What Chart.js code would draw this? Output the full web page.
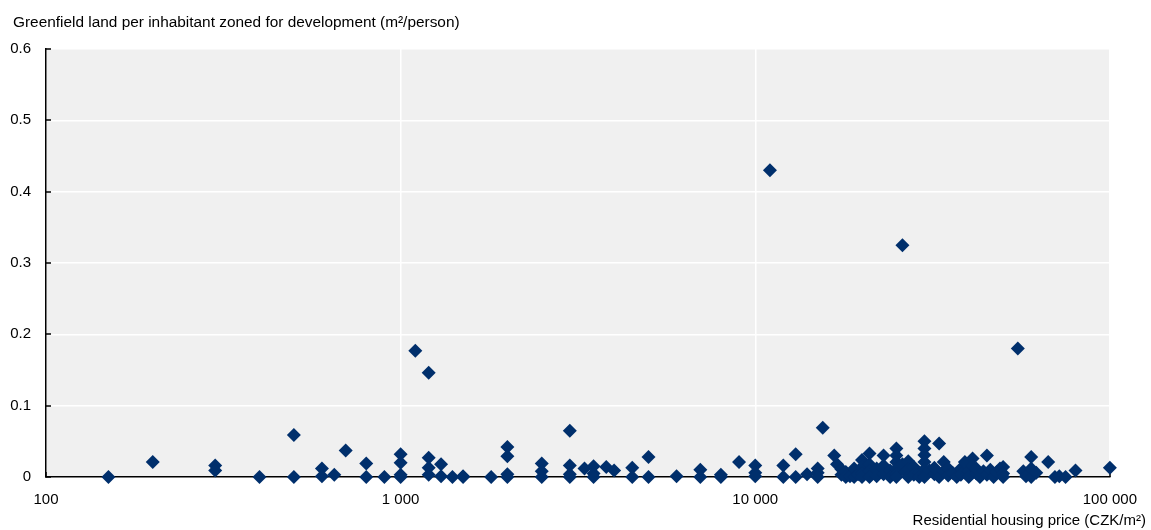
<!DOCTYPE html>
<html>
<head>
<meta charset="utf-8">
<title>Greenfield land zoned for development vs residential housing price</title>
<script src="https://cdn.jsdelivr.net/npm/chart.js@4.4.1/dist/chart.umd.min.js"></script>
<style>
  html, body { margin: 0; padding: 0; background: #ffffff; }
  canvas { display: block; }
</style>
</head>
<body>
<canvas id="chart" width="1151" height="530"></canvas>
<script>
// Residential housing price per municipality (CZK/m²)
const housingPrice = [
  150, 200, 300, 300, 400, 500, 500, 600, 600, 650,
  700, 800, 800, 900, 1000, 1000, 1000, 1000, 1100, 1200,
  1200, 1200, 1200, 1300, 1300, 1400, 1500, 1500, 1800, 2000,
  2000, 2000, 2000, 2500, 2500, 2500, 3000, 3000, 3000, 3000,
  3300, 3500, 3500, 3500, 3800, 4000, 4500, 4500, 5000, 5000,
  6000, 7000, 7000, 8000, 8000, 9000, 10000, 10000, 10000, 11000,
  12000, 12000, 13000, 13000, 14000, 15000, 15000, 15000, 15500, 16700,
  17000, 17500, 17500, 18000, 18000, 18500, 19000, 19000, 19500, 20000,
  20000, 20000, 20000, 21000, 21000, 21000, 21000, 22000, 22000, 23000,
  23000, 23000, 24000, 24000, 25000, 25000, 25000, 25000, 25000, 25000,
  26000, 26000, 26500, 27000, 27000, 27000, 28000, 28000, 29000, 29000,
  30000, 30000, 30000, 30000, 30000, 30000, 30000, 31000, 32000, 32000,
  33000, 33000, 34000, 34000, 35000, 35000, 36000, 37000, 38000, 38000,
  39000, 40000, 40000, 41000, 41000, 42000, 42000, 43000, 44000, 45000,
  45000, 46000, 47000, 48000, 49000, 50000, 50000, 50000, 55000, 57000,
  58000, 60000, 60000, 60000, 62000, 67000, 70000, 72000, 75000, 80000,
  100000
];

// Greenfield land per inhabitant zoned for development (m²/person)
const greenfieldLand = [
  0, 0.021, 0.016, 0.009, 0, 0.059, 0, 0.012, 0.001, 0.003,
  0.037, 0.019, 0, 0, 0.032, 0.020, 0.003, 0, 0.177, 0.146,
  0.027, 0.013, 0.003, 0.018, 0.001, 0, 0.001, 0, 0, 0.042,
  0.029, 0.004, 0, 0.019, 0.008, 0, 0.065, 0.016, 0.004, 0,
  0.012, 0.015, 0.005, 0, 0.014, 0.009, 0.013, 0, 0.028, 0,
  0.001, 0.010, 0, 0.003, 0, 0.021, 0.016, 0.006, 0.001, 0.430,
  0.016, 0, 0.032, 0, 0.004, 0.012, 0.006, 0, 0.069, 0.030,
  0.018, 0.011, 0.003, 0.007, 0, 0.001, 0.012, 0, 0.004, 0.024,
  0.014, 0.005, 0, 0.033, 0.018, 0.008, 0, 0.012, 0.001, 0.030,
  0.016, 0.004, 0.009, 0, 0.040, 0.030, 0.021, 0.012, 0.004, 0,
  0.325, 0.018, 0.007, 0.022, 0.011, 0, 0.014, 0.003, 0.006, 0,
  0.050, 0.040, 0.031, 0.021, 0.011, 0.003, 0, 0.009, 0.004, 0.013,
  0.047, 0, 0.021, 0.008, 0.012, 0.002, 0.006, 0, 0.012, 0.003,
  0.021, 0.008, 0, 0.026, 0.015, 0.005, 0.012, 0, 0.008, 0.030,
  0.003, 0.010, 0, 0.007, 0.012, 0.014, 0.005, 0, 0.180, 0.008,
  0.001, 0.028, 0.012, 0, 0.006, 0.021, 0, 0.001, 0, 0.009,
  0.013
];

// Axis ticks
const xTickValues = [100, 1000, 10000, 100000];
const xTickLabels = ['100', '1 000', '10 000', '100 000'];
const yTickValues = [0, 0.1, 0.2, 0.3, 0.4, 0.5, 0.6];
const yTickLabels = ['0', '0.1', '0.2', '0.3', '0.4', '0.5', '0.6'];

// Axis titles
const yAxisTitle = 'Greenfield land per inhabitant zoned for development (m²/person)';
const xAxisTitle = 'Residential housing price (CZK/m²)';

const FONT_FAMILY = '"Liberation Sans", Arial, Helvetica, sans-serif';
const MARKER_COLOR = '#002F6C';
const PLOT_BG = '#f0f0f0';

const points = housingPrice.map((x, i) => ({ x: x, y: greenfieldLand[i] }));

// Grey plot background, inward tick marks and the two axis titles
const decorations = {
  id: 'decorations',
  beforeDraw(chart) {
    const { ctx, chartArea: a } = chart;
    ctx.save();
    ctx.fillStyle = PLOT_BG;
    ctx.fillRect(a.left, a.top, a.right - a.left, a.bottom - a.top);
    ctx.restore();
  },
  beforeDatasetsDraw(chart) {
    const { ctx, chartArea: a, scales } = chart;
    ctx.save();
    ctx.strokeStyle = '#000';
    ctx.lineWidth = 1.5;
    ctx.beginPath();
    yTickValues.forEach(v => {
      const y = Math.round(scales.y.getPixelForValue(v));
      ctx.moveTo(a.left, y);
      ctx.lineTo(a.left + 5, y);
    });
    xTickValues.forEach(v => {
      const x = Math.round(scales.x.getPixelForValue(v));
      ctx.moveTo(x, a.bottom);
      ctx.lineTo(x, a.bottom - 5);
    });
    ctx.stroke();
    ctx.restore();
  },
  afterDraw(chart) {
    const { ctx, width } = chart;
    ctx.save();
    ctx.fillStyle = '#000';
    ctx.textBaseline = 'alphabetic';
    ctx.font = '15.4px ' + FONT_FAMILY;
    ctx.textAlign = 'left';
    ctx.fillText(yAxisTitle, 13, 27);
    ctx.font = '15px ' + FONT_FAMILY;
    ctx.textAlign = 'right';
    ctx.fillText(xAxisTitle, width - 5, 525);
    ctx.restore();
  }
};

new Chart(document.getElementById('chart'), {
  type: 'scatter',
  data: {
    datasets: [{
      data: points,
      pointStyle: 'rectRot',
      pointRadius: 7,
      pointHoverRadius: 7,
      backgroundColor: MARKER_COLOR,
      borderColor: MARKER_COLOR,
      borderWidth: 0,
      clip: false
    }]
  },
  options: {
    responsive: false,
    animation: false,
    devicePixelRatio: 1,
    layout: { padding: { top: 49, right: 40, bottom: 0, left: 0 } },
    plugins: {
      legend: { display: false },
      tooltip: { enabled: false }
    },
    scales: {
      x: {
        type: 'logarithmic',
        min: 100,
        max: 100000,
        afterBuildTicks(scale) {
          scale.ticks = xTickValues.map(v => ({ value: v }));
        },
        afterFit(scale) { scale.height = 53; },
        ticks: {
          autoSkip: false,
          maxRotation: 0,
          padding: 14,
          color: '#000',
          font: { family: FONT_FAMILY, size: 15 },
          callback(value) {
            const i = xTickValues.indexOf(value);
            return i >= 0 ? xTickLabels[i] : '';
          }
        },
        grid: { color: '#ffffff', lineWidth: 1.5, drawTicks: false },
        border: { display: true, color: '#000', width: 1.5 }
      },
      y: {
        type: 'linear',
        min: 0,
        max: 0.6,
        afterBuildTicks(scale) {
          scale.ticks = yTickValues.map(v => ({ value: v }));
        },
        afterFit(scale) { scale.width = 46; },
        ticks: {
          padding: 15,
          color: '#000',
          font: { family: FONT_FAMILY, size: 15 },
          callback(value) {
            const i = yTickValues.findIndex(v => Math.abs(v - value) < 1e-9);
            return i >= 0 ? yTickLabels[i] : '';
          }
        },
        grid: { color: '#ffffff', lineWidth: 1.5, drawTicks: false },
        border: { display: true, color: '#000', width: 1.5 }
      }
    }
  },
  plugins: [decorations]
});
</script>
</body>
</html>
